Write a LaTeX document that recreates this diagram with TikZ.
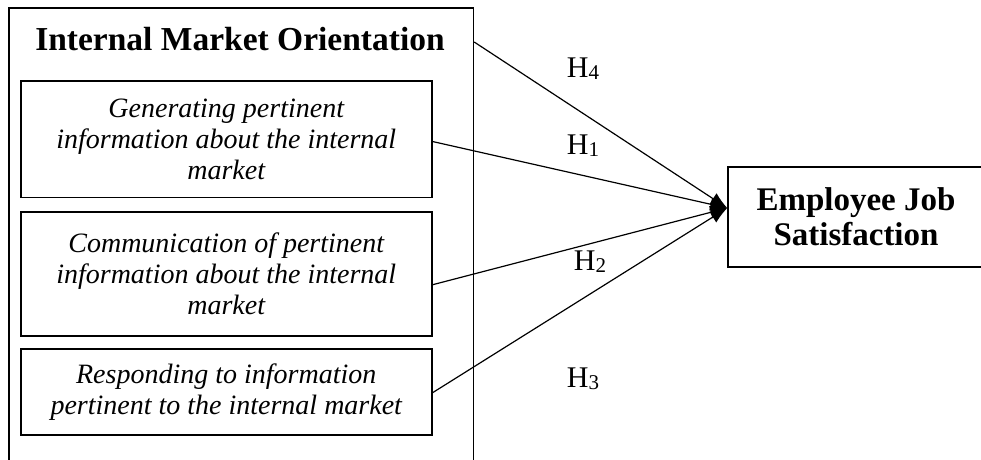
\documentclass[tikz,border=0pt]{standalone}
\usepackage{fontspec}
\setmainfont{Liberation Serif}
\usetikzlibrary{arrows.meta}
\newcommand{\hyplabel}[1]{H\raisebox{-2pt}{\fontsize{21}{21}\selectfont #1}}
\begin{document}
\begin{tikzpicture}[x=1pt,y=-1pt,
  box/.style={draw, line width=1.5pt, inner sep=0pt, align=center},
  itbox/.style={box, anchor=north west, minimum width=411pt,
    font=\fontsize{28}{31}\selectfont\itshape},
  conn/.style={line width=1.2pt, -{Latex[length=17pt,width=13pt]}},
  hyp/.style={anchor=base, inner sep=0pt, font=\fontsize{30}{30}\selectfont}
]
\useasboundingbox (0,0) rectangle (981,459);
\clip (0,0) rectangle (981,459);
% outer container (open at the bottom of the picture)
\node[box, anchor=north west, minimum width=464.7pt, minimum height=490pt] (outer) at (8,7) {};
\node[anchor=base, inner sep=0pt, font=\fontsize{33.5}{36}\selectfont\bfseries] (title) at (240,50) {Internal Market Orientation};
% inner boxes
\node[itbox, minimum height=116.5pt] (b1) at (20,80) {Generating pertinent\\information about the internal\\market};
\node[itbox, minimum height=124pt] (b2) at (20,211) {Communication of pertinent\\information about the internal\\market};
\node[itbox, minimum height=86pt] (b3) at (20,348) {Responding to information\\pertinent to the internal market};
% dependent construct
\node[box, minimum width=256pt, minimum height=100pt, font=\fontsize{33}{35}\selectfont\bfseries] (ejs) at (856,217) {Employee Job\\Satisfaction};
\coordinate (tip) at ([yshift=9pt]ejs.west);
\coordinate (s4) at ([yshift=-35pt]outer.north east);
% connectors
\draw[conn] (s4) -- (tip);
\draw[conn] ([yshift=-2.5pt]b1.east) -- (tip);
\draw[conn] ([yshift=-11pt]b2.east) -- (tip);
\draw[conn] ([yshift=-1pt]b3.east) -- (tip);
% hypothesis labels
\node[hyp] (h4) at (583,77) {\hyplabel{4}};
\node[hyp] (h1) at (583,154) {\hyplabel{1}};
\node[hyp] (h2) at (590,270) {\hyplabel{2}};
\node[hyp] (h3) at (583,387) {\hyplabel{3}};
\end{tikzpicture}
\end{document}
